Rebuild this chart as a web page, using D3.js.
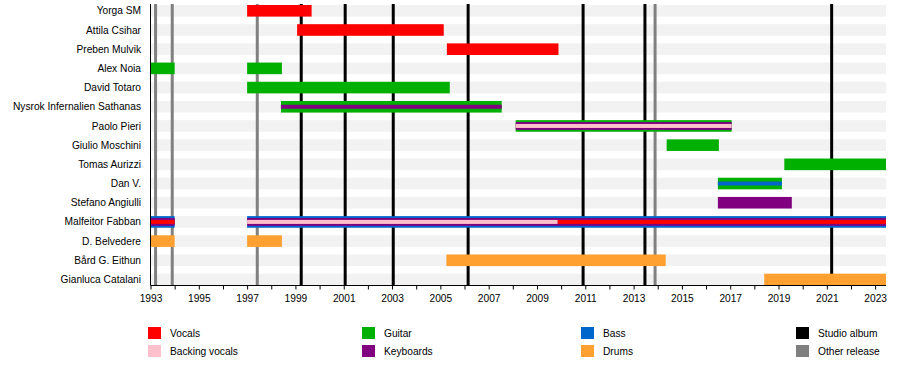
<!DOCTYPE html>
<html>
<head>
<meta charset="utf-8">
<script src="https://cdn.jsdelivr.net/npm/d3@7"></script>
<style>
  body { margin: 0; background: #fff; }
  text { font-family: "Liberation Sans", Arial, sans-serif; }
</style>
</head>
<body>
<svg id="chart" width="900" height="365"></svg>
<script>
// ---- data ----
const members = ["Yorga SM", "Attila Csihar", "Preben Mulvik", "Alex Noia", "David Totaro",
  "Nysrok Infernalien Sathanas", "Paolo Pieri", "Giulio Moschini", "Tomas Aurizzi", "Dan V.",
  "Stefano Angiulli", "Malfeitor Fabban", "D. Belvedere", "Bård G. Eithun", "Gianluca Catalani"];

const timelineStart = 1993;
const timelineEnd = 2023.45;

const vocals = [["Yorga SM", 1997.0, 1999.67], ["Attila Csihar", 1999.07, 2005.14],
  ["Preben Mulvik", 2005.27, 2009.89], ["Malfeitor Fabban", 1993.0, 1994.0],
  ["Malfeitor Fabban", 2009.86, 2023.45]];
const backingVocals = [["Paolo Pieri", 2008.12, 2017.06], ["Malfeitor Fabban", 1997.0, 2009.86]];
const guitar = [["Alex Noia", 1993.0, 1994.0], ["Alex Noia", 1997.0, 1998.44],
  ["David Totaro", 1997.0, 2005.39], ["Nysrok Infernalien Sathanas", 1998.4, 2007.54],
  ["Paolo Pieri", 2008.12, 2017.06], ["Giulio Moschini", 2014.37, 2016.53],
  ["Tomas Aurizzi", 2019.24, 2023.45], ["Dan V.", 2016.49, 2019.14]];
const keyboards = [["Nysrok Infernalien Sathanas", 1998.4, 2007.54], ["Paolo Pieri", 2008.12, 2017.06],
  ["Stefano Angiulli", 2016.49, 2019.55], ["Malfeitor Fabban", 1993.0, 1994.0],
  ["Malfeitor Fabban", 1997.0, 2023.45]];
const bass = [["Dan V.", 2016.49, 2019.14], ["Malfeitor Fabban", 1993.0, 1994.0],
  ["Malfeitor Fabban", 1997.0, 2023.45]];
const drums = [["D. Belvedere", 1993.0, 1994.0], ["D. Belvedere", 1997.0, 1998.44],
  ["Bård G. Eithun", 2005.25, 2014.33], ["Gianluca Catalani", 2018.41, 2023.45]];

const studioAlbums = [1999.24, 2001.06, 2003.05, 2006.15, 2010.91, 2013.47, 2021.2];
const otherReleases = [1993.21, 1993.9, 1997.42, 2013.89];

const tickYears = d3.range(1993, 2024);
const labelYears = d3.range(1993, 2024, 2);

// ---- roles / colours ----
// order from outer band to inner band
const roles = [
  { name: "Guitar", data: guitar, color: "#00b000", slot: "guitar" },
  { name: "Bass", data: bass, color: "#0066cc", slot: "bass" },
  { name: "Drums", data: drums, color: "#ffa030", slot: "drums" },
  { name: "Keyboards", data: keyboards, color: "#800080", slot: "keys" },
  { name: "Backing vocals", data: backingVocals, color: "#ffc0cb", slot: "voc" },
  { name: "Vocals", data: vocals, color: "#ff0000", slot: "voc" }
];
// Malfeitor: bass outermost
const outerFirst = { "Malfeitor Fabban": ["bass", "keys", "voc"] };

const legendItems = [
  ["Vocals", "#ff0000"], ["Backing vocals", "#ffc0cb"],
  ["Guitar", "#00b000"], ["Keyboards", "#800080"],
  ["Bass", "#0066cc"], ["Drums", "#ffa030"],
  ["Studio album", "#000000"], ["Other release", "#808080"]
];

// ---- scales ----
const svg = d3.select("#chart");
const x = d3.scaleLinear().domain([timelineStart, timelineEnd]).range([150.5, 886]);
const y = d3.scalePoint().domain(members).range([10.8, 279.5]);
const barH = 11.6;
const axisY = 285.5;

// background stripes
svg.append("g").selectAll("rect").data(members).join("rect")
  .attr("x", x(timelineStart)).attr("width", x(timelineEnd) - x(timelineStart))
  .attr("y", d => y(d) - barH / 2).attr("height", barH)
  .attr("fill", "#f2f2f2");

// release lines
svg.append("g").selectAll("line").data(otherReleases).join("line")
  .attr("x1", d => x(d)).attr("x2", d => x(d))
  .attr("y1", 4).attr("y2", axisY)
  .attr("stroke", "#808080").attr("stroke-width", 3);
svg.append("g").selectAll("line").data(studioAlbums).join("line")
  .attr("x1", d => x(d)).attr("x2", d => x(d))
  .attr("y1", 4).attr("y2", axisY)
  .attr("stroke", "#000").attr("stroke-width", 3);

// compute slots per member
const memberSlots = {};
members.forEach(m => {
  if (outerFirst[m]) { memberSlots[m] = outerFirst[m]; return; }
  const s = [];
  roles.forEach(r => {
    if (r.data.some(d => d[0] === m) && !s.includes(r.slot)) s.push(r.slot);
  });
  memberSlots[m] = s;
});

const bars = [];
members.forEach(m => {
  const slots = memberSlots[m];
  const n = slots.length;
  slots.forEach((slot, k) => {
    const h = n === 1 ? barH : barH - k * ((barH - 4) / (n - 1));
    roles.filter(r => r.slot === slot).forEach(r => {
      r.data.filter(d => d[0] === m).forEach(d => {
        bars.push({ member: m, start: d[1], end: d[2], color: r.color, h, k });
      });
    });
  });
});
bars.sort((a, b) => a.k - b.k);

svg.append("g").selectAll("rect").data(bars).join("rect")
  .attr("x", d => x(d.start)).attr("width", d => x(d.end) - x(d.start))
  .attr("y", d => y(d.member) - d.h / 2).attr("height", d => d.h)
  .attr("fill", d => d.color);

// member labels
svg.append("g").selectAll("text").data(members).join("text")
  .attr("x", 141).attr("y", d => y(d)).attr("dy", "0.35em")
  .attr("text-anchor", "end").attr("font-size", 10.2).attr("fill", "#000")
  .text(d => d);

// left axis line
svg.append("line").attr("x1", 150.5).attr("x2", 150.5).attr("y1", 4).attr("y2", axisY)
  .attr("stroke", "#000").attr("stroke-width", 1);

// bottom axis
const axis = d3.axisBottom(x).tickValues(tickYears).tickSize(4).tickSizeOuter(0)
  .tickFormat(d => labelYears.includes(d) ? String(d) : "");
const ag = svg.append("g").attr("transform", `translate(0,${axisY})`).call(axis);
ag.select(".domain").attr("d", `M${x(timelineStart)},0H${x(timelineEnd)}`).attr("stroke", "#000");
ag.selectAll("text").attr("font-size", 10.2).attr("fill", "#000").attr("dy", "0.95em")
  .attr("font-family", "Liberation Sans, Arial, sans-serif");

// legend
const legendCols = [148, 362, 581, 796];
const legendRows = [327, 345];
const lg = svg.append("g").selectAll("g").data(legendItems).join("g")
  .attr("transform", (d, i) => `translate(${legendCols[Math.floor(i / 2)]},${legendRows[i % 2]})`);
lg.append("rect").attr("width", 13).attr("height", 12).attr("fill", d => d[1]);
lg.append("text").attr("x", 22).attr("y", 6).attr("dy", "0.35em")
  .attr("font-size", 10.2).attr("fill", "#000").text(d => d[0]);
</script>
</body>
</html>
